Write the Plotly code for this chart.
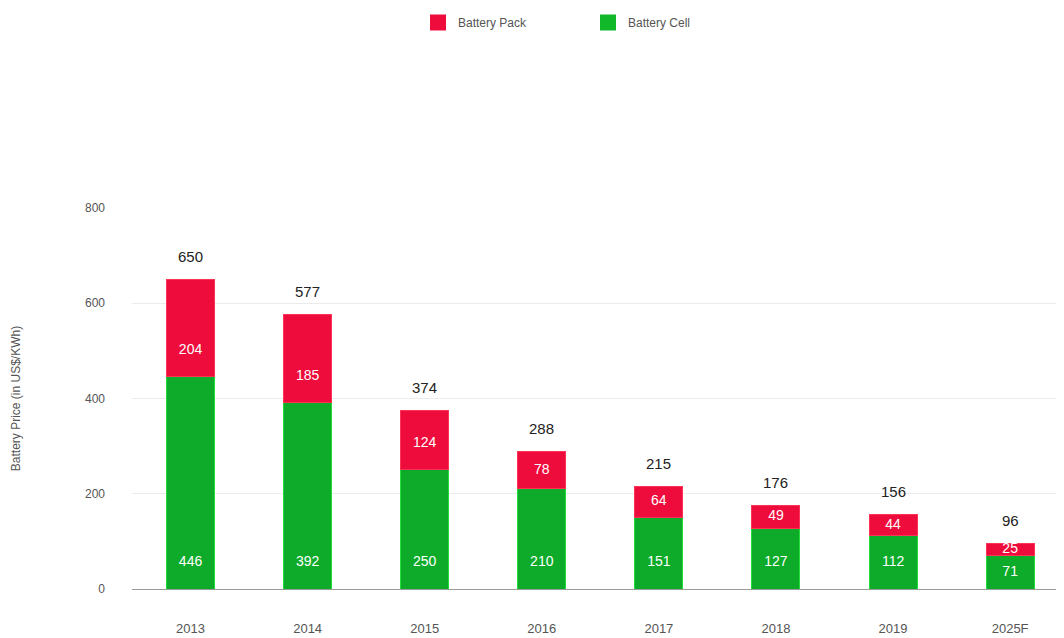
import plotly.graph_objects as go

years = ["2013", "2014", "2015", "2016", "2017", "2018", "2019", "2025F"]
cell = [446, 392, 250, 210, 151, 127, 112, 71]
pack = [204, 185, 124, 78, 64, 49, 44, 25]
totals = [650, 577, 374, 288, 215, 176, 156, 96]

font_family = "Liberation Sans, Arial, sans-serif"
GREEN = "#0eab2a"
RED = "#ee0c3c"
LABEL_PAD = 55  # data units above segment base where the inner label sits

fig = go.Figure()
fig.add_trace(go.Bar(
    x=years, y=cell, name="Battery Cell", showlegend=False,
    marker=dict(color=GREEN, line=dict(color="#22dd3a", width=1)),
    width=0.41, hovertemplate="%{x}: %{y}<extra>Battery Cell</extra>",
))
fig.add_trace(go.Bar(
    x=years, y=pack, name="Battery Pack", showlegend=False,
    marker=dict(color=RED, line=dict(color="#ff3355", width=1)),
    width=0.41, hovertemplate="%{x}: %{y}<extra>Battery Pack</extra>",
))

# inner labels (near the base of each segment, at most at the segment centre)
cell_label_y = [min(c / 2, LABEL_PAD) for c in cell]
pack_label_y = [c + min(p / 2, LABEL_PAD) for c, p in zip(cell, pack)]
fig.add_trace(go.Scatter(
    x=years, y=cell_label_y, mode="text", text=[str(v) for v in cell],
    textposition="middle center", showlegend=False, hoverinfo="skip",
    textfont=dict(color="white", size=14, family=font_family),
))
fig.add_trace(go.Scatter(
    x=years, y=pack_label_y, mode="text", text=[str(v) for v in pack],
    textposition="middle center", showlegend=False, hoverinfo="skip",
    textfont=dict(color="white", size=14, family=font_family),
))
# totals above the bars
for i, t in enumerate(totals):
    fig.add_annotation(x=i, y=t, text=str(t), showarrow=False, yshift=23,
                       yanchor="middle",
                       font=dict(color="#222222", size=15, family=font_family))

# legend entries
fig.add_trace(go.Scatter(x=[None], y=[None], mode="markers", name="Battery Pack",
                         marker=dict(symbol="square", size=16, color=RED)))
fig.add_trace(go.Scatter(x=[None], y=[None], mode="markers", name="Battery Cell",
                         marker=dict(symbol="square", size=16, color="#10b82a")))

fig.update_layout(
    width=1056, height=630,
    barmode="stack",
    paper_bgcolor="white", plot_bgcolor="white",
    margin=dict(l=124, r=0, t=200, b=49),
    font=dict(family=font_family, color="#555555", size=13),
    showlegend=True,
    legend=dict(orientation="h", x=410 / 1056, xref="container", xanchor="left",
                y=1.0, yref="container", yanchor="top", traceorder="normal",
                font=dict(size=12, color="#555555"), itemwidth=30,
                entrywidth=125, entrywidthmode="pixels"),
    xaxis=dict(range=[-0.5, 7.46], showgrid=False, ticks="", showline=False,
               automargin=False,
               tickfont=dict(size=13, color="#555555"), ticklabelstandoff=30),
    yaxis=dict(range=[0, 800], tickvals=[0, 200, 400, 600, 800],
               automargin=False,
               showgrid=True, gridcolor="#ebebeb", gridwidth=1,
               zeroline=True, zerolinecolor="#999999", zerolinewidth=1,
               tickfont=dict(size=12, color="#555555"), ticklabelstandoff=26,
               title=dict(text="Battery Price (in US$/KWh)", standoff=61,
                          font=dict(size=12, color="#555555"))),
)

fig.write_html("out.html")
